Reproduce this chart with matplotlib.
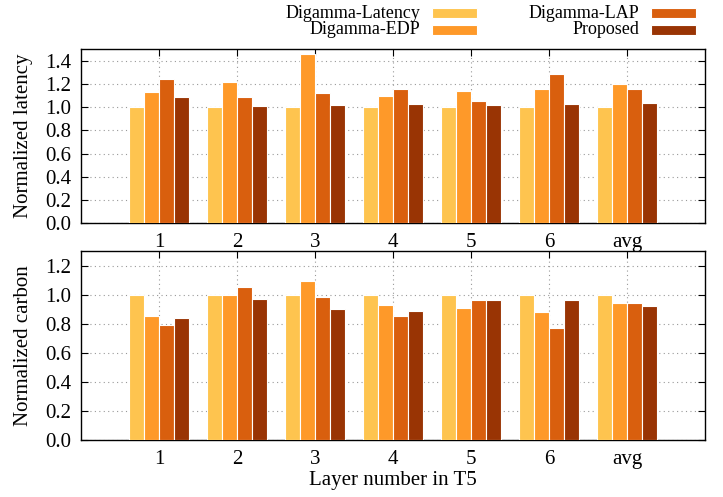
import numpy as np
import matplotlib.pyplot as plt
from matplotlib.patches import Rectangle

plt.rcParams['font.family'] = ['Liberation Serif', 'DejaVu Serif']
plt.rcParams['font.size'] = 15

# Data
layers = ['1', '2', '3', '4', '5', '6', 'avg']
series = ['Digamma-Latency', 'Digamma-EDP', 'Digamma-LAP', 'Proposed']
colors = ['#FEC44F', '#FE9929', '#D95F0E', '#993404']

lat_latency = [1.00, 1.00, 1.00, 1.00, 1.00, 1.00, 1.00]
lat_edp = [1.13, 1.22, 1.46, 1.10, 1.14, 1.16, 1.20]
lat_lap = [1.24, 1.09, 1.12, 1.16, 1.05, 1.29, 1.16]
lat_proposed = [1.09, 1.01, 1.02, 1.03, 1.02, 1.03, 1.04]

carb_latency = [1.00, 1.00, 1.00, 1.00, 1.00, 1.00, 1.00]
carb_edp = [0.85, 1.00, 1.09, 0.93, 0.91, 0.88, 0.94]
carb_lap = [0.79, 1.05, 0.98, 0.85, 0.96, 0.77, 0.94]
carb_proposed = [0.84, 0.97, 0.90, 0.89, 0.96, 0.96, 0.92]

latency = [lat_latency, lat_edp, lat_lap, lat_proposed]
carbon = [carb_latency, carb_edp, carb_lap, carb_proposed]

fig = plt.figure(figsize=(7.23, 4.97), dpi=100)
ax1 = fig.add_axes([0.112, 0.551, 0.863, 0.350])
ax2 = fig.add_axes([0.112, 0.115, 0.863, 0.380])

x = np.arange(1, len(layers) + 1)
w = 0.19


def draw(ax, data, ymax, yticks, ylabel):
    for i, (vals, c) in enumerate(zip(data, colors)):
        ax.bar(x + (i - 1.5) * w, vals, w, color=c, edgecolor='white',
               linewidth=0.8, zorder=3)
    ax.set_xlim(0, 8)
    ax.set_ylim(0, ymax)
    ax.set_xticks(x)
    ax.set_xticklabels(layers)
    ax.set_yticks(yticks)
    ax.set_yticklabels([f'{t:.1f}' for t in yticks])
    ax.grid(True, color='#999999', linestyle=(0, (1, 3)), linewidth=0.8, zorder=0)
    ax.tick_params(direction='in', top=True, right=True, length=5, width=0.8,
                   labelsize=15, pad=7)
    ax.set_ylabel(ylabel, fontsize=15)
    ax.yaxis.set_label_coords(-0.077, 0.5)
    for s in ax.spines.values():
        s.set_linewidth(1.0)


draw(ax1, latency, 1.5, np.arange(0, 1.41, 0.2), 'Normalized latency')
draw(ax2, carbon, 1.3, np.arange(0, 1.21, 0.2), 'Normalized carbon')
ax2.set_xlabel('Layer number in T5', fontsize=15, labelpad=2)

# Legend: two columns, label to the left of the colour patch
text_right = [420, 639]
patch_left = [432, 651]
row_y = [13, 30]
W, H = 723, 497
for k, (name, c) in enumerate(zip(series, colors)):
    col, row = k // 2, k % 2
    yc = 1 - row_y[row] / H
    fig.text(text_right[col] / W, yc, name, ha='right', va='center', fontsize=13)
    fig.patches.append(Rectangle((patch_left[col] / W, yc - 4.5 / H), 45 / W, 9 / H,
                                 transform=fig.transFigure, facecolor=c,
                                 edgecolor='white', linewidth=0.8))

fig.savefig('out.png', dpi=100)
